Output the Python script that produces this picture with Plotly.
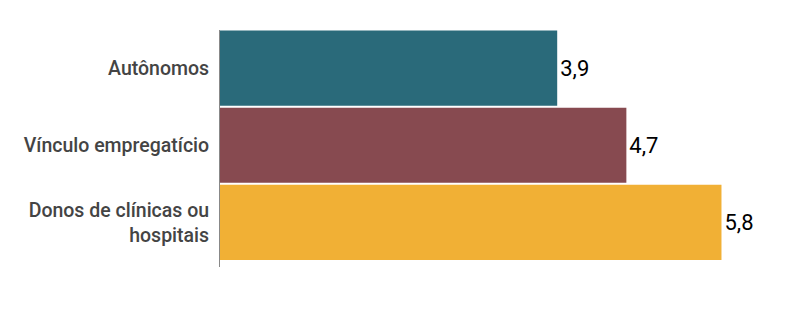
import plotly.graph_objects as go

categories = ["Autônomos", "Vínculo empregatício", "Donos de clínicas ou<br>hospitais"]
values = [3.9, 4.7, 5.8]
colors = ["#2a6a7a", "#874a50", "#f1b035"]

fig = go.Figure(
    go.Bar(
        x=values,
        y=categories,
        orientation="h",
        marker=dict(color=colors, line=dict(width=0)),
        text=values,
        texttemplate="%{x:.1f}",
        textposition="outside",
        textfont=dict(family="Roboto", size=22, color="#000000"),
        cliponaxis=False,
        hoverinfo="skip",
    )
)

fig.update_layout(
    width=801,
    height=335,
    margin=dict(l=220, r=19, t=30, b=68),
    paper_bgcolor="white",
    plot_bgcolor="white",
    separators=",.",
    bargap=0.026,
    showlegend=False,
    font=dict(family="Roboto", size=20, color="#444444"),
    xaxis=dict(range=[0, 6.5], showgrid=False, zeroline=False, showticklabels=False,
               showline=False, fixedrange=True),
    yaxis=dict(range=[2.578, -0.494], showgrid=False, zeroline=False,
               showline=True, linecolor="#888888", linewidth=1,
               ticks="", ticklabelstandoff=6,
               tickfont=dict(family="Roboto", size=19.5, color="#444444", weight=500)),
)

fig.write_html("out.html")
